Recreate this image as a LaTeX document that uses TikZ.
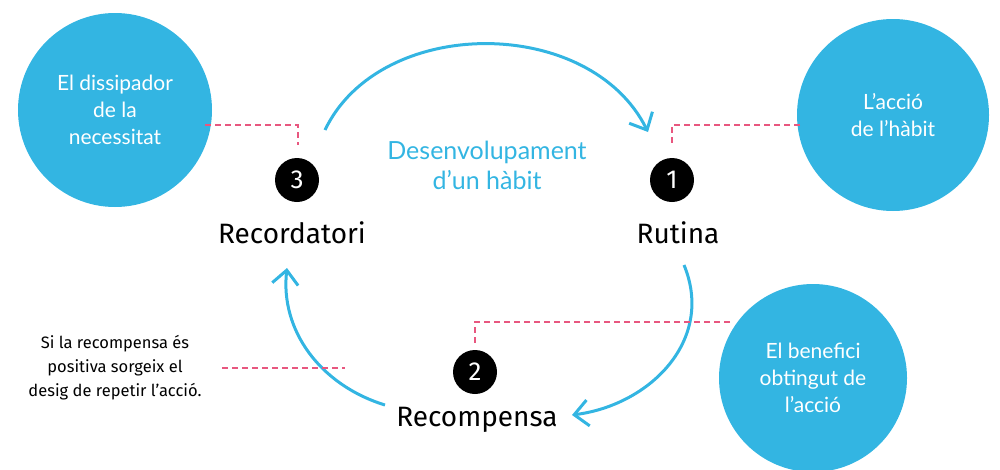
\documentclass[tikz,border=0pt]{standalone}
\usepackage{fontspec}
\setmainfont{Lato}
\newfontfamily\hand{Fira Sans}
\usetikzlibrary{arrows.meta}
\definecolor{cy}{HTML}{33B5E2}
\definecolor{pk}{HTML}{E8577F}
\tikzset{big/.style={circle,fill=cy,minimum size=#1,inner sep=0pt,text=white,align=center,font=\fontsize{21}{27}\selectfont},
num/.style={circle,fill=black,minimum size=44pt,inner sep=0pt,text=white,font=\hand\fontsize{26}{26}\selectfont},
lab/.style={font=\hand\fontsize{28}{30}\selectfont},
arc/.style={draw=cy,line width=3pt,-{Straight Barb[length=14pt,width=26pt,line width=3pt]}},
dl/.style={draw=pk,dashed,line width=1.3pt,dash pattern=on 6pt off 4pt}}
\begin{document}
\begin{tikzpicture}[x=1pt,y=-1pt]
\useasboundingbox (0,0) rectangle (1000,469);
\node[big=194pt] (c1) at (115,110) {El dissipador\\de la\\necessitat};
\node[big=192pt] (c2) at (893,115) {L’acció\\de l’hàbit};
\node[big=188pt] (c3) at (813,378) {El benefici\\obtingut de\\l’acció};
\node[num] (n3) at (297,180) {3};
\node[num] (n1) at (672,180) {1};
\node[num] (n2) at (475,372) {2};
\node[lab] (l3) at (292,233) {Recordatori};
\node[lab] (l1) at (678,233) {Rutina};
\node[lab] (l2) at (477,420) {Recompensa};
\node[text=cy,align=center,font=\fontsize{25}{30}\selectfont] (t) at (487,165) {Desenvolupament\\d’un hàbit};
\node[align=center,font=\hand\fontsize{16.5}{24}\selectfont] (s) at (115,368) {Si la recompensa és\\positiva sorgeix el\\desig de repetir l’acció.};
\coordinate (a1) at (325,130); \coordinate (a2) at (648,132);
\coordinate (b1) at (684,265); \coordinate (b2) at (572,415);
\coordinate (d1) at (385,405); \coordinate (d2) at (287,268);
\draw[arc] (a1) .. controls (380,15) and (590,15) .. (a2);
\draw[arc] (b1) .. controls (715,340) and (650,405) .. (b2);
\draw[arc] (d1) .. controls (320,385) and (280,330) .. (d2);
\draw[dl] (205,125) -- (298,125) -- (298,145);
\draw[dl] (800,125) -- (672,125) -- (672,145);
\draw[dl] (730,322) -- (475,322) -- (475,345);
\draw[dl] (222,368) -- (345,368);
\end{tikzpicture}
\end{document}
